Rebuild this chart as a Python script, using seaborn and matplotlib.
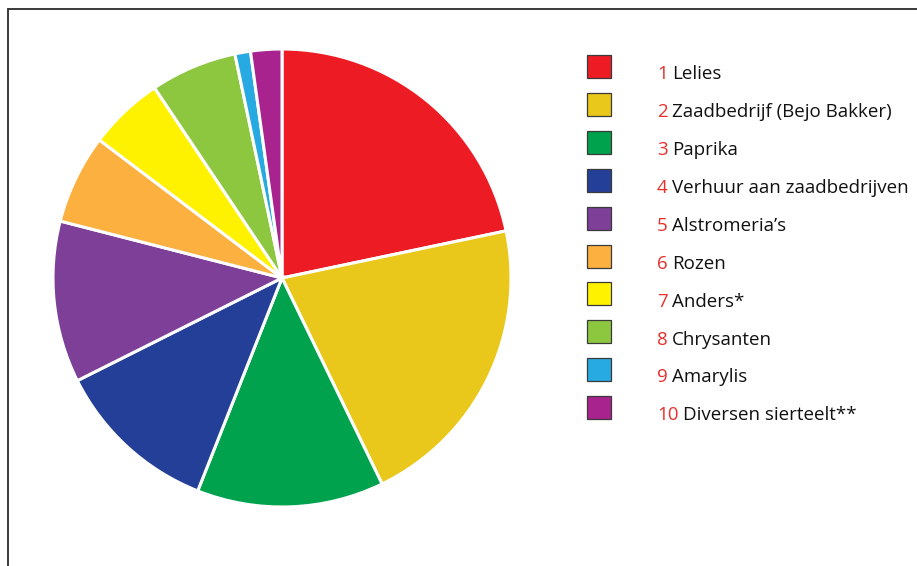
import matplotlib
matplotlib.use("Agg")
import matplotlib.pyplot as plt
from matplotlib.patches import Rectangle
import seaborn as sns

# Share of each crop / activity (percent)
categories = [
    "Lelies",
    "Zaadbedrijf (Bejo Bakker)",
    "Paprika",
    "Verhuur aan zaadbedrijven",
    "Alstromeria\u2019s",
    "Rozen",
    "Anders*",
    "Chrysanten",
    "Amarylis",
    "Diversen sierteelt**",
]
shares = [21.7, 21.1, 13.2, 11.6, 11.4, 6.3, 5.3, 6.1, 1.1, 2.2]
colors = [
    "#ED1C24", "#E9C81B", "#00A24D", "#243F97", "#7E3F98",
    "#FBB040", "#FFF200", "#8DC63F", "#27AAE1", "#A8238E",
]

sns.set_theme(style="white")
plt.rcParams["font.family"] = ["Open Sans", "DejaVu Sans"]
palette = sns.color_palette(colors)

W, H = 917, 566
fig = plt.figure(figsize=(W / 100, H / 100), dpi=100)
fig.patch.set_facecolor("white")

# Outer frame (open to the right and bottom edges)
fig.patches.append(Rectangle((7.5 / W, -0.1), 1.2, (H - 9) / H + 0.1,
                             transform=fig.transFigure, fill=False,
                             edgecolor="#2b2b2b", linewidth=1.3))

# Pie
cx, cy, r = 282, 278, 229
ax = fig.add_axes([(cx - r) / W, (H - cy - r) / H, 2 * r / W, 2 * r / H])
ax.pie(shares, colors=palette, startangle=90, counterclock=False,
       radius=1.0, wedgeprops=dict(edgecolor="white", linewidth=2.2))
ax.set_xlim(-1, 1)
ax.set_ylim(-1, 1)
ax.set_aspect("equal")
ax.axis("off")

# Legend drawn by hand: square swatch, red index, black label
step = 37.9
fs = 13.5
for i, (name, col) in enumerate(zip(categories, palette)):
    top = 55 + i * step
    fig.patches.append(Rectangle((587 / W, 1 - (top + 23) / H), 24 / W, 23 / H,
                                 transform=fig.transFigure, facecolor=col,
                                 edgecolor="#3a3a3a", linewidth=0.9))
    base = 1 - (79.3 + i * step) / H
    num = fig.text(657 / W, base, str(i + 1), color="#E8302C",
                   fontsize=fs, va="baseline", ha="left")
    ax.annotate(name, xy=(1, 0), xycoords=num, xytext=(3.0, 0),
                textcoords="offset points", va="bottom", ha="left",
                fontsize=fs, color="#111111", annotation_clip=False)

fig.savefig("out.png", dpi=100, facecolor="white")
